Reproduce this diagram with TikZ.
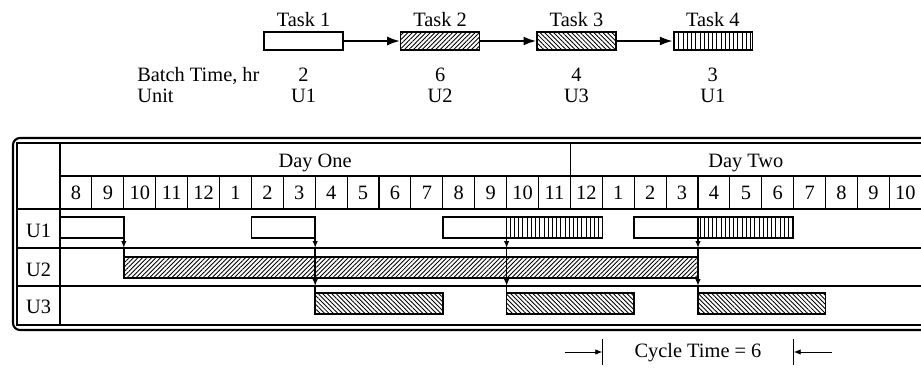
\documentclass[tikz,border=0pt]{standalone}
\usepackage{fontspec}
\setmainfont{Liberation Serif}
\usetikzlibrary{arrows.meta,positioning,calc,patterns.meta}

\begin{document}
\begin{tikzpicture}[x=0.02cm,y=-0.02cm,font=\fontsize{11.6}{13}\selectfont,
  node distance=1.13cm,
  taskbox/.style={draw,line width=0.8pt,minimum width=1.58cm,minimum height=0.36cm,inner sep=0pt},
  plainbar/.style={},
  hatchA/.style={pattern={Lines[angle=45,distance=1.8pt,line width=0.5pt]}},
  hatchB/.style={pattern={Lines[angle=-45,distance=1.8pt,line width=0.5pt]}},
  hatchC/.style={pattern={Lines[angle=90,distance=2.4pt,line width=0.5pt]}},
  flow/.style={-{Latex[length=2.6mm,width=1.8mm]},line width=1.3pt},
  drop/.style={-{Latex[length=1.4mm,width=1.1mm]},line width=0.8pt},
  cell/.style={line width=0.6pt}]
\useasboundingbox (0,0) rectangle (921,369);
\clip (0,0) rectangle (921,369);

% task sequence
\node[taskbox] (t1) at (303.5,41) {};
\node[taskbox,hatchA,right=of t1] (t2) {};
\node[taskbox,hatchB,right=of t2] (t3) {};
\node[taskbox,hatchC,right=of t3] (t4) {};
\foreach \a/\b in {t1/t2,t2/t3,t3/t4} \draw[flow] (\a) -- (\b);
\foreach \i/\h/\u in {1/2/U1,2/6/U2,3/4/U3,4/3/U1} {
  \node[above=0.5mm of t\i,inner sep=1pt] (lab\i) {Task \i};
  \node[anchor=base] (bt\i) at ($(t\i)+(0,40)$) {\h};
  \node[anchor=base] (un\i) at ($(t\i)+(0,61)$) {\u};
}
\node[anchor=base west,inner sep=0pt] (bth) at (137,81) {Batch Time, hr};
\node[anchor=base west,inner sep=0pt] (unh) at (137,102) {Unit};

% chart frame and grid
\draw[line width=1.2pt,rounded corners=4pt] (13,138) rectangle (940,330);
\draw[line width=0.9pt] (17,143) rectangle (940,325);
\draw[cell] (60,176) -- (940,176);
\draw[cell] (17,209) -- (940,209);
\draw[cell,line width=0.9pt] (17,248) -- (940,248);
\draw[cell] (17,286) -- (940,286);
\draw[cell] (60,143) -- (60,325);
\draw[cell] ({60+16*31.9},143) -- ++(0,33);
\foreach \k [count=\n from 0] in {8,9,10,11,12,1,2,3,4,5,6,7,8,9,10,11,12,1,2,3,4,5,6,7,8,9,10} {
  \draw[cell] ({60+31.9*(\n+1)},176) -- ++(0,33);
  \node (hr\n) at ({60+31.9*(\n+0.5)},192.5) {\k};
}
\node[anchor=base] (day1) at ({60+8*31.9},167) {Day One};
\node[anchor=base] (day2) at ({60+21.5*31.9},167) {Day Two};
\foreach \r/\y in {1/237,2/276,3/313} \node[anchor=base] (row\r) at (38.5,\y) {U\r};

% batches
\foreach \a/\b/\y/\s in {0/2/217/plainbar,6/8/217/plainbar,12/14/217/plainbar,18/20/217/plainbar,
    14/17/217/hatchC,20/23/217/hatchC,2/20/257/hatchA,8/12/293/hatchB,14/18/293/hatchB,20/24/293/hatchB}
  \draw[line width=0.8pt,\s] ({60+31.9*\a},\y) rectangle ({60+31.9*\b},\y+21);

% transfers
\coordinate (s2) at ({60+31.9*2},217);
\coordinate (m2) at ({60+31.9*2},248);
\coordinate (e2) at ({60+31.9*2},257);
\draw[drop] (s2) -- (m2);
\draw[line width=0.8pt] (m2) -- (e2);
\foreach \c in {8,14,20} {
  \coordinate (s\c) at ({60+31.9*\c},217);
  \coordinate (m\c) at ({60+31.9*\c},248);
  \coordinate (n\c) at ({60+31.9*\c},286);
  \coordinate (e\c) at ({60+31.9*\c},293);
  \draw[drop] (s\c) -- (m\c);
  \draw[drop] (m\c) -- (n\c);
  \draw[line width=0.8pt] (n\c) -- (e\c);
}

% cycle time
\node[anchor=base] (cyc) at (698,357) {Cycle Time = 6};
\coordinate (cl) at ({60+31.9*17},352);
\coordinate (cr) at ({60+31.9*23},352);
\coordinate (cla) at (565,352);
\coordinate (cra) at (832,352);
\draw[line width=0.6pt] ($(cl)+(0,-13)$) -- ($(cl)+(0,13)$);
\draw[line width=0.6pt] ($(cr)+(0,-13)$) -- ($(cr)+(0,13)$);
\draw[drop,line width=0.5pt] (cla) -- (cl);
\draw[drop,line width=0.5pt] (cra) -- (cr);
\end{tikzpicture}
\end{document}
